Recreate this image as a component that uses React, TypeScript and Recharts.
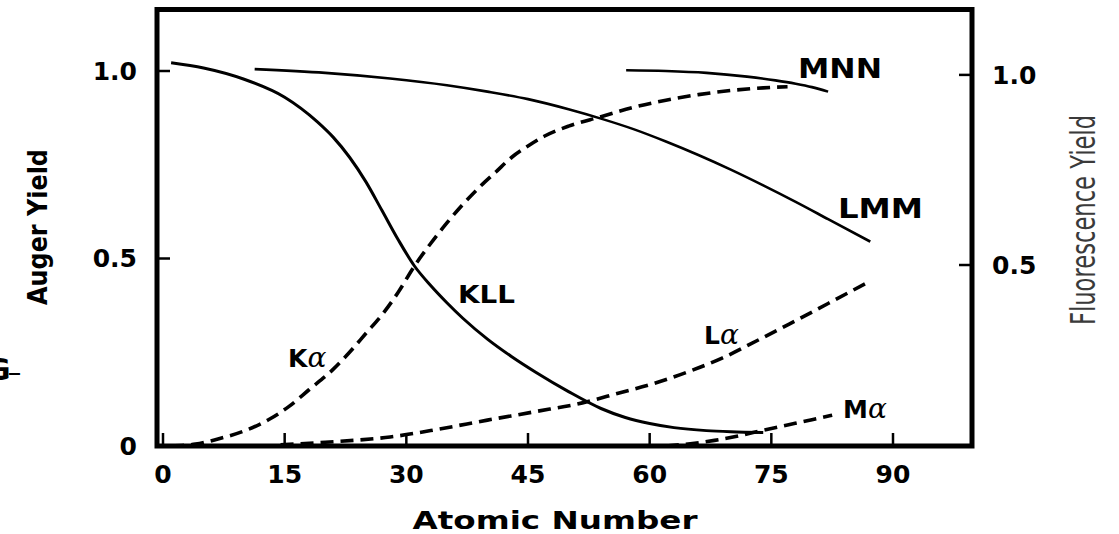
import { LineChart, Line, XAxis, YAxis, ReferenceArea } from 'recharts'

// page reset so the 1119x534 figure fills the window exactly
if (typeof document !== 'undefined') {
  document.body.style.margin = '0'
  document.body.style.overflow = 'hidden'
  document.documentElement.style.overflow = 'hidden'
}

// atomic numbers (x) and yields (y)
const kllX = [1, 5, 10, 15, 19, 21, 23, 25, 27, 29, 31, 33, 35, 37, 40, 43, 46, 50, 54, 57, 60, 63, 67, 70, 74]
const kllY = [1.022, 1.008, 0.978, 0.93, 0.865, 0.823, 0.77, 0.705, 0.628, 0.55, 0.48, 0.428, 0.382, 0.34, 0.285, 0.238, 0.196, 0.145, 0.1, 0.076, 0.06, 0.049, 0.041, 0.038, 0.036]

const lmmX = [11.3, 20, 28, 35, 40, 45, 50, 54, 58, 62, 66, 70, 74, 78, 82, 87.2]
const lmmY = [1.005, 0.995, 0.98, 0.962, 0.945, 0.925, 0.898, 0.873, 0.845, 0.812, 0.776, 0.737, 0.695, 0.651, 0.605, 0.545]

const mnnX = [57.1, 62, 67, 72, 75.5, 78, 80, 82]
const mnnY = [1.002, 1.0, 0.995, 0.985, 0.975, 0.966, 0.957, 0.945]

const kaX = [1, 4, 7, 10, 13, 15.5, 18, 21, 23, 25, 27, 29, 31, 33, 35, 37, 39, 41, 43, 45, 47, 50, 54, 58, 62, 66, 70, 74, 77]
const kaY = [0, 0.005, 0.02, 0.04, 0.07, 0.105, 0.15, 0.205, 0.25, 0.3, 0.35, 0.41, 0.48, 0.54, 0.595, 0.645, 0.69, 0.73, 0.77, 0.8, 0.826, 0.853, 0.878, 0.903, 0.922, 0.937, 0.948, 0.955, 0.958]

const laX = [14.5, 20, 28, 34, 40, 46, 51.7, 56, 61, 65, 69, 73.6, 77.2, 82, 87.2]
const laY = [0.003, 0.01, 0.024, 0.045, 0.069, 0.092, 0.115, 0.14, 0.17, 0.2, 0.235, 0.285, 0.325, 0.38, 0.44]

const maX = [62, 65, 68, 71, 74, 77, 80, 82.5]
const maY = [0, 0.006, 0.015, 0.027, 0.042, 0.056, 0.07, 0.082]

const xTicks = [0, 15, 30, 45, 60, 75, 90]
const augerTicks = [0, 0.5, 1.0]
const fluorTicks = [0.5, 1.0]

const X_DOMAIN: [number, number] = [-0.74, 99.74]
const AUGER_DOMAIN: [number, number] = [0, 1.164]
const FLUOR_DOMAIN: [number, number] = [0.024, 1.172]

const pts = (xs: number[], ys: number[]) => xs.map((x, i) => ({ x, y: ys[i] }))

const sans = '"DejaVu Sans", sans-serif'
const tickFont = { fill: '#000', fontSize: 25, fontWeight: 700, fontFamily: sans }
const alpha = { fontFamily: '"DejaVu Serif", serif', fontStyle: 'italic', fontWeight: 400, fontSize: 28 } as const

export default function App() {
  return (
    <div style={{ position: 'relative', width: 1119, height: 534, background: '#fff', overflow: 'hidden' }}>
      <LineChart width={1119} height={534} margin={{ top: 9.5, right: 0, bottom: 0, left: 0 }}>
        <XAxis
          dataKey="x"
          type="number"
          domain={X_DOMAIN}
          allowDataOverflow
          ticks={xTicks}
          interval={0}
          height={88}
          axisLine={false}
          tickLine={{ stroke: '#000', strokeWidth: 2.5 }}
          tickSize={-13}
          tickMargin={32}
          tick={tickFont}
        />
        <YAxis
          yAxisId="auger"
          type="number"
          domain={AUGER_DOMAIN}
          allowDataOverflow
          ticks={augerTicks}
          tickFormatter={(v: number) => (v === 0 ? '0' : v.toFixed(1))}
          interval={0}
          width={157}
          axisLine={false}
          tickLine={{ stroke: '#000', strokeWidth: 2.5 }}
          tickSize={-13}
          tickMargin={33}
          tick={tickFont}
        />
        <YAxis
          yAxisId="fluor"
          orientation="right"
          type="number"
          domain={FLUOR_DOMAIN}
          allowDataOverflow
          ticks={fluorTicks}
          tickFormatter={(v: number) => v.toFixed(1)}
          interval={0}
          width={147}
          axisLine={false}
          tickLine={{ stroke: '#000', strokeWidth: 2.5 }}
          tickSize={-13}
          tickMargin={33}
          tick={tickFont}
        />

        {/* Auger yields, solid */}
        <Line yAxisId="auger" data={pts(kllX, kllY)} dataKey="y" type="monotone" stroke="#000" strokeWidth={3} dot={false} isAnimationActive={false} />
        <Line yAxisId="auger" data={pts(lmmX, lmmY)} dataKey="y" type="monotone" stroke="#000" strokeWidth={2.6} dot={false} isAnimationActive={false} />
        <Line yAxisId="auger" data={pts(mnnX, mnnY)} dataKey="y" type="monotone" stroke="#000" strokeWidth={2.6} dot={false} isAnimationActive={false} />
        {/* fluorescence yields, dashed */}
        <Line yAxisId="auger" data={pts(kaX, kaY)} dataKey="y" type="monotone" stroke="#000" strokeWidth={3.6} strokeDasharray="13 7" dot={false} isAnimationActive={false} />
        <Line yAxisId="auger" data={pts(laX, laY)} dataKey="y" type="monotone" stroke="#000" strokeWidth={3.6} strokeDasharray="13 7" dot={false} isAnimationActive={false} />
        <Line yAxisId="auger" data={pts(maX, maY)} dataKey="y" type="monotone" stroke="#000" strokeWidth={3.6} strokeDasharray="13 7" dot={false} isAnimationActive={false} />

        <ReferenceArea
          yAxisId="auger"
          x1={X_DOMAIN[0]}
          x2={X_DOMAIN[1]}
          y1={AUGER_DOMAIN[0]}
          y2={AUGER_DOMAIN[1]}
          fill="none"
          stroke="#000"
          strokeWidth={5}
          ifOverflow="visible"
        />
      </LineChart>

      <svg width={1119} height={534} style={{ position: 'absolute', left: 0, top: 0, pointerEvents: 'none' }}>
        <g fontFamily={sans} fontWeight={700} fill="#000">
          <text x={798} y={78} fontSize={26} textLength={84} lengthAdjust="spacingAndGlyphs">MNN</text>
          <text x={838} y={218} fontSize={26} textLength={85} lengthAdjust="spacingAndGlyphs">LMM</text>
          <text x={458} y={303} fontSize={25} textLength={57} lengthAdjust="spacingAndGlyphs">KLL</text>
          <text x={288} y={367} fontSize={25}>K<tspan {...alpha}>α</tspan></text>
          <text x={704} y={344} fontSize={25}>L<tspan {...alpha}>α</tspan></text>
          <text x={843} y={418} fontSize={25}>M<tspan {...alpha}>α</tspan></text>
          <text x={555} y={529} fontSize={25} textAnchor="middle" textLength={285} lengthAdjust="spacingAndGlyphs">Atomic Number</text>
          <text x={47} y={227} fontSize={27} textAnchor="middle" transform="rotate(-90 47 227)" textLength={156} lengthAdjust="spacingAndGlyphs">Auger Yield</text>
          <text x={-14} y={380} fontSize={30}>G</text>
          <text x={9} y={370} fontSize={22}>_</text>
        </g>
        <text
          x={1095}
          y={220}
          fontSize={34}
          fontFamily={sans}
          fill="#3a3a3a"
          textAnchor="middle"
          transform="rotate(-90 1095 220)"
          textLength={210}
          lengthAdjust="spacingAndGlyphs"
        >
          Fluorescence Yield
        </text>
      </svg>
    </div>
  )
}
